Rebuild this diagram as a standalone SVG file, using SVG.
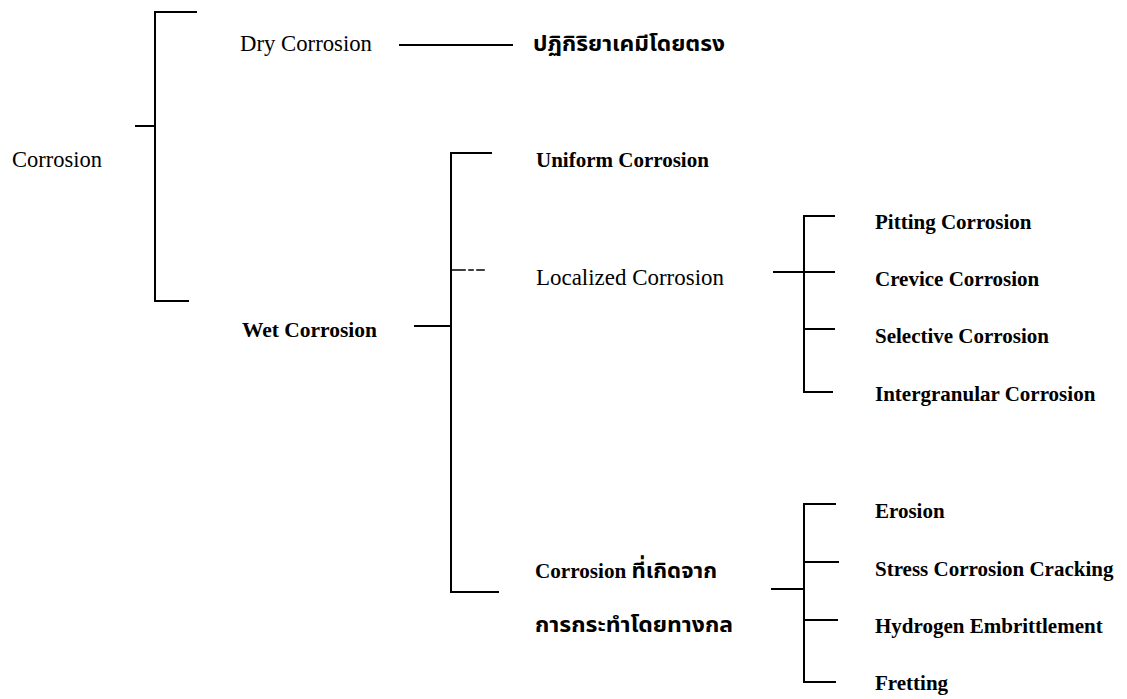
<svg xmlns="http://www.w3.org/2000/svg" width="1127" height="699" viewBox="0 0 1127 699">
<style>
.ln{fill:none;stroke:#000;stroke-width:2;stroke-linecap:square}
.t{font-family:"Liberation Serif","Times New Roman",serif;font-size:21px;font-weight:bold;fill:#000}
.r{font-family:"Liberation Serif","Times New Roman",serif;font-size:22.5px;font-weight:normal;fill:#000}
.th{font-family:"Noto Sans Thai","Noto Serif Thai","Garuda","Loma","DejaVu Sans","Noto Sans",sans-serif;font-size:22px;font-weight:bold;fill:#000}
</style>
<rect width="1127" height="699" fill="#fff"/>
<g id="connectors">
  <path class="ln" d="M196,12 H155 V301 H188"/>
  <path class="ln" d="M136,126 H155"/>
  <path class="ln" d="M400,45 H512"/>
  <path class="ln" d="M491,153 H451 V592 H498"/>
  <path class="ln" d="M451,270 H484" stroke-dasharray="14 4 4 4" style="stroke-width:1.6"/>
  <path class="ln" d="M415,326 H451"/>
  <path class="ln" d="M834,216 H804 V392 H832"/>
  <path class="ln" d="M774,272 H834"/>
  <path class="ln" d="M804,329 H834"/>
  <path class="ln" d="M835,504 H804 V682 H835"/>
  <path class="ln" d="M804,562 H838"/>
  <path class="ln" d="M804,620 H837"/>
  <path class="ln" d="M772,589 H804"/>
</g>
<g id="n-corrosion"><text class="r" x="12" y="167" textLength="90" lengthAdjust="spacingAndGlyphs">Corrosion</text></g>
<g id="n-dry"><text class="r" x="240" y="51" textLength="132" lengthAdjust="spacingAndGlyphs">Dry Corrosion</text></g>
<g id="n-direct"><text class="th" x="533" y="51" textLength="192" lengthAdjust="spacingAndGlyphs">ปฏิกิริยาเคมีโดยตรง</text></g>
<g id="n-wet"><text class="t" x="242" y="337" textLength="135" lengthAdjust="spacingAndGlyphs">Wet Corrosion</text></g>
<g id="n-uniform"><text class="t" x="536" y="167">Uniform Corrosion</text></g>
<g id="n-localized"><text class="r" x="536" y="285" textLength="188" lengthAdjust="spacingAndGlyphs">Localized Corrosion</text></g>
<g id="n-mech">
  <text class="t" x="535" y="578" textLength="182" lengthAdjust="spacingAndGlyphs">Corrosion <tspan class="th">ที่เกิดจาก</tspan></text>
  <text class="th" x="535" y="632" textLength="198" lengthAdjust="spacingAndGlyphs">การกระทำโดยทางกล</text>
</g>
<g id="n-pitting"><text class="t" x="875" y="229">Pitting Corrosion</text></g>
<g id="n-crevice"><text class="t" x="875" y="286">Crevice Corrosion</text></g>
<g id="n-selective"><text class="t" x="875" y="343">Selective Corrosion</text></g>
<g id="n-intergranular"><text class="t" x="875" y="401">Intergranular Corrosion</text></g>
<g id="n-erosion"><text class="t" x="875" y="518">Erosion</text></g>
<g id="n-scc"><text class="t" x="875" y="576">Stress Corrosion Cracking</text></g>
<g id="n-he"><text class="t" x="875" y="633">Hydrogen Embrittlement</text></g>
<g id="n-fretting"><text class="t" x="875" y="690">Fretting</text></g>
</svg>
